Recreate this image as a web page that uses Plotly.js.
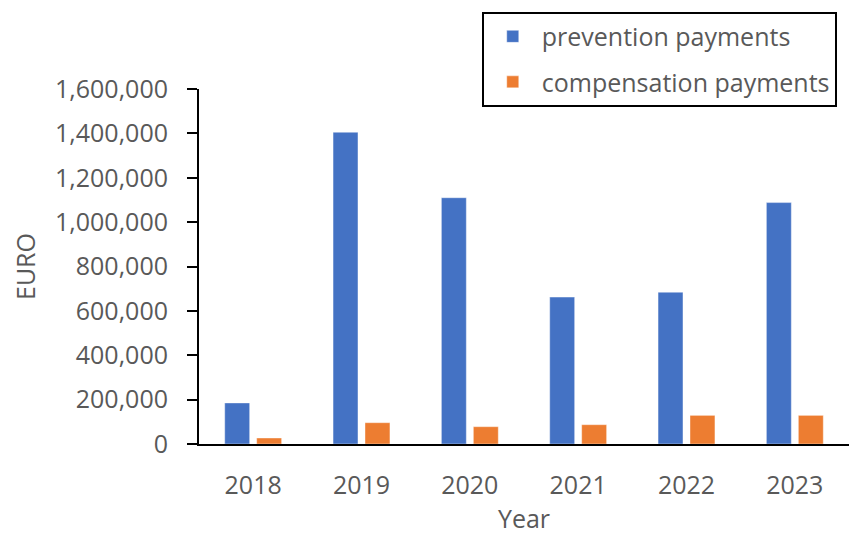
<!DOCTYPE html>
<html>
<head>
<meta charset="utf-8">
<script src="https://cdn.plot.ly/plotly-3.0.1.min.js"></script>
<style>
  html, body { margin: 0; padding: 0; background: #ffffff; }
  #chart { width: 849px; height: 535px; }
</style>
</head>
<body>
<div id="chart"></div>
<script>
// Annual payments in EURO
const years = ['2018', '2019', '2020', '2021', '2022', '2023'];
const preventionPayments = [185000, 1405000, 1110000, 662000, 684000, 1088000];
const compensationPayments = [27000, 96000, 78000, 87000, 129000, 129000];
const seriesNames = ['prevention payments', 'compensation payments'];
const yTicks = [0, 200000, 400000, 600000, 800000, 1000000, 1200000, 1400000, 1600000];

const FONT = 'Open Sans, Noto Sans, sans-serif';
const GREY = '#595959';
const FS = 25;

const traces = [
  {
    type: 'bar',
    name: seriesNames[0],
    x: years,
    y: preventionPayments,
    legendgroup: 'a',
    marker: { color: '#4472C4', line: { color: 'rgba(255,255,255,0.5)', width: 0.8 } },
    hoverinfo: 'x+y+name'
  },
  {
    type: 'bar',
    name: seriesNames[1],
    x: years,
    y: compensationPayments,
    legendgroup: 'b',
    marker: { color: '#ED7D31', line: { color: 'rgba(255,255,255,0.5)', width: 0.8 } },
    hoverinfo: 'x+y+name'
  }
];

const layout = {
  width: 849,
  height: 535,
  margin: { l: 199, r: 0, t: 89, b: 91 },
  paper_bgcolor: '#ffffff',
  plot_bgcolor: '#ffffff',
  font: { family: FONT, size: FS, color: GREY },
  barmode: 'group',
  bargap: 0.41,
  bargroupgap: 0.22,
  showlegend: true,
  legend: {
    x: 0.435,
    y: 1.218,
    xanchor: 'left',
    yanchor: 'top',
    bgcolor: '#ffffff',
    bordercolor: '#000000',
    borderwidth: 2,
    traceorder: 'grouped',
    tracegroupgap: 10,
    itemwidth: 48,
    font: { family: FONT, size: FS, color: GREY }
  },
  xaxis: {
    type: 'category',
    showline: true,
    linecolor: '#000000',
    linewidth: 2,
    ticks: '',
    showgrid: false,
    zeroline: false,
    ticklabelstandoff: 18,
    tickfont: { family: FONT, size: FS, color: GREY },
    title: { text: 'Year', font: { family: FONT, size: FS, color: GREY }, standoff: 22 }
  },
  yaxis: {
    range: [0, 1600000],
    tickvals: yTicks,
    tickformat: ',d',
    showline: true,
    linecolor: '#000000',
    linewidth: 2,
    ticks: 'outside',
    ticklen: 10,
    tickwidth: 2,
    tickcolor: '#000000',
    showgrid: false,
    zeroline: false,
    ticklabelstandoff: 14,
    tickfont: { family: FONT, size: FS, color: GREY },
    title: { text: 'EURO', font: { family: FONT, size: FS, color: GREY }, standoff: 12 }
  }
};

Plotly.newPlot('chart', traces, layout, { staticPlot: true, displayModeBar: false });
</script>
</body>
</html>
